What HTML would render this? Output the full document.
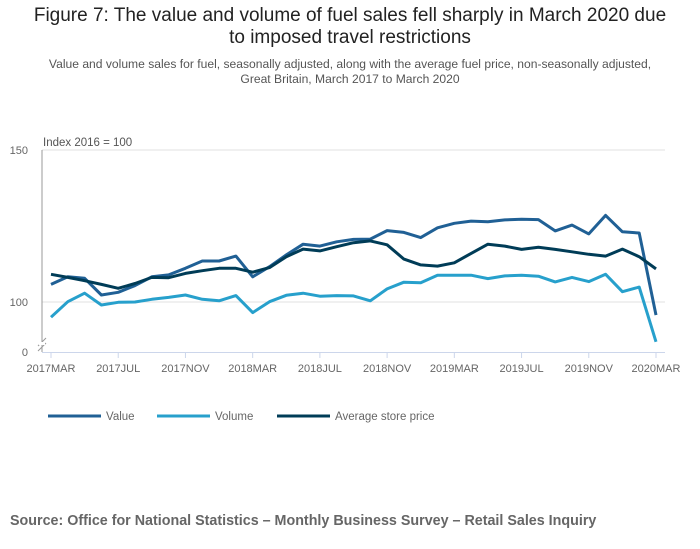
<!DOCTYPE html>
<html><head><meta charset="utf-8"><style>
body{margin:0;background:#fff;font-family:"Liberation Sans",sans-serif;}
#wrap{position:relative;width:700px;height:549px;overflow:hidden;}
#title{position:absolute;top:5px;left:0;width:700px;text-align:center;font-size:19px;line-height:22px;color:#222;}
#sub{position:absolute;top:57px;left:0;width:700px;text-align:center;font-size:12.1px;line-height:15px;color:#555;}
#source{position:absolute;top:513px;left:10px;font-size:14.3px;font-weight:bold;color:#666;}
svg{position:absolute;top:0;left:0;}
</style></head><body>
<div id="wrap">
<div id="title">Figure 7: The value and volume of fuel sales fell sharply in March 2020 due<br>to imposed travel restrictions</div>
<div id="sub">Value and volume sales for fuel, seasonally adjusted, along with the average fuel price, non-seasonally adjusted,<br>Great Britain, March 2017 to March 2020</div>
<svg id="chart" width="700" height="549"></svg>
<div id="source">Source: Office for National Statistics – Monthly Business Survey – Retail Sales Inquiry</div>
</div>
<script>
const tickLabels = ["2017MAR","2017JUL","2017NOV","2018MAR","2018JUL","2018NOV","2019MAR","2019JUL","2019NOV","2020MAR"];
const valueSeries = [105.8,108.3,107.8,102.3,103.2,105.4,108.3,108.9,111.1,113.5,113.5,115.1,108.3,111.6,115.5,119,118.4,119.8,120.6,120.7,123.5,122.9,121.2,124.4,125.9,126.6,126.4,127,127.2,127.1,123.4,125.3,122.4,128.5,123.1,122.7,95.7];
const volumeSeries = [95,100.1,102.9,99,99.9,100,100.9,101.5,102.3,100.9,100.4,102.1,96.5,100.1,102.2,102.9,101.9,102.1,102,100.4,104.3,106.5,106.3,108.8,108.8,108.8,107.7,108.6,108.8,108.5,106.6,108.1,106.7,109.1,103.4,104.9,86.9];
const priceSeries = [109.1,108.1,107,105.8,104.5,106.1,108.1,108,109.4,110.3,111.1,111.1,109.8,111.3,114.9,117.4,116.8,118.2,119.5,120.1,118.8,114.1,112.2,111.8,112.9,116,119,118.4,117.3,118,117.3,116.5,115.7,115.1,117.4,114.9,110.9];
const seriesNames = ["Value","Volume","Average store price"];

const svg = document.getElementById('chart');
const NS = 'http://www.w3.org/2000/svg';
const x = i => 51 + i * (605/36);
const y = v => 302 - (v - 100) * 3.04;
function mk(tag, attrs, parent){const e=document.createElementNS(NS,tag);for(const k in attrs)e.setAttribute(k,attrs[k]);(parent||svg).appendChild(e);return e;}

[100,150].forEach(v=>{
  const g = mk('line',{x1:42,x2:665,y1:y(v),y2:y(v),stroke:'#e0e0e0','stroke-width':1});
  
  
  const t = mk('text',{x:28,y:y(v)+4,'text-anchor':'end','font-size':11,fill:'#666'});
  t.textContent = v;
  
  
});
const zt = mk('text',{x:28,y:356,'text-anchor':'end','font-size':11,fill:'#666'});
zt.textContent='0';


const ya = mk('line',{x1:42,x2:42,y1:150,y2:352,stroke:'#999','stroke-width':1});


const br = mk('path',{d:'M38 346 L46 338 M38 351 L46 343',stroke:'#999','stroke-width':1,fill:'none'});


mk('rect',{x:39,y:342,width:6,height:3,fill:'#fff'});
const xa = mk('line',{x1:42,x2:665,y1:352.5,y2:352.5,stroke:'#ccd6eb','stroke-width':1});


const yt = mk('text',{x:43,y:146,'font-size':11.5,fill:'#555'});
yt.textContent='Index 2016 = 100';



tickLabels.forEach((lab,k)=>{
  const xi = x(k*4);
  const tk = mk('line',{x1:xi,x2:xi,y1:352,y2:358,stroke:'#ccd6eb'});
  
  
  const t = mk('text',{x:xi,y:372,'text-anchor':'middle','font-size':11,fill:'#666'});
  t.textContent = lab;
  
  
});

const colors = ['#206095','#27a0cc','#003c57'];
const allSeries = [valueSeries, volumeSeries, priceSeries];
const order = [1,0,2];
order.forEach(s=>{
  const d = allSeries[s].map((v,i)=>(i?'L':'M')+x(i).toFixed(1)+' '+y(v).toFixed(1)).join(' ');
  const p = mk('path',{d:d,fill:'none',stroke:colors[s],'stroke-width':3,'stroke-linejoin':'round'});
  
  
});

const lx = [48,157,277];
seriesNames.forEach((n,s)=>{
  const g = mk('g',{});
  
  
  mk('line',{x1:lx[s],x2:lx[s]+53,y1:416,y2:416,stroke:colors[s],'stroke-width':3},g);
  const t = mk('text',{x:lx[s]+58,y:420,'font-size':11.5,fill:'#666'},g);
  t.textContent = n;
});
</script>
</body></html>
